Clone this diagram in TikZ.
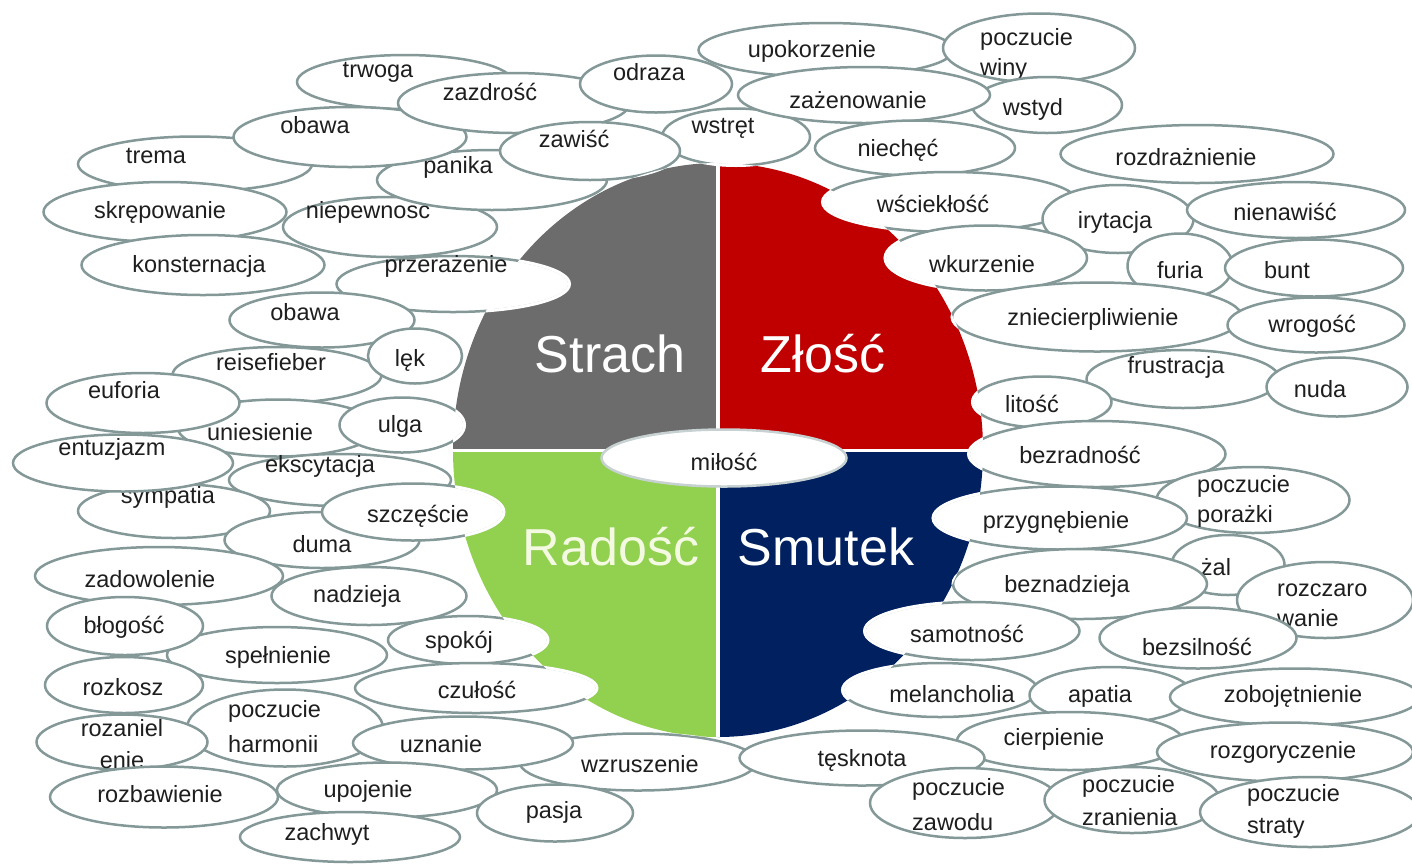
\documentclass[tikz,border=0pt]{standalone}
\usepackage{fontspec}
\setmainfont{Liberation Sans}
\usetikzlibrary{shapes.geometric}

\definecolor{rim}{RGB}{132,152,152}
\definecolor{ink}{RGB}{30,30,30}
\definecolor{fearGrey}{RGB}{108,108,108}
\definecolor{angerRed}{RGB}{192,0,0}
\definecolor{joyGreen}{RGB}{146,208,80}
\definecolor{sadNavy}{RGB}{0,32,96}

\begin{document}
\begin{tikzpicture}[x=1pt, y=-1pt,
  emo/.style 2 args={ellipse, draw=rim, fill=white, line width=2.5pt,
    minimum width=#1, minimum height=#2, inner sep=0pt},
  lbl/.style={font=\fontsize{23.5}{32}\selectfont, text=ink, inner sep=0pt, anchor=base},
  lbl2/.style={lbl, align=left, anchor=base west},
  big/.style={font=\fontsize{52}{60}\selectfont, inner sep=0pt, anchor=base}]
  \useasboundingbox (0,0) rectangle (1412,863);
  \fill[white] (0,0) rectangle (1412,863);

  % the four quarters
  \coordinate (mid) at (718,450);
  \fill[fearGrey] (mid) -- (453,450) arc[start angle=180, end angle=270, x radius=265, y radius=287] -- cycle;
  \fill[angerRed] (mid) -- (718,163) arc[start angle=270, end angle=360, x radius=265, y radius=287] -- cycle;
  \fill[sadNavy] (mid) -- (983,450) arc[start angle=0, end angle=90, x radius=265, y radius=287] -- cycle;
  \fill[joyGreen] (mid) -- (718,737) arc[start angle=90, end angle=180, x radius=265, y radius=287] -- cycle;
  \draw[white, line width=3.5pt] (718,163) -- (718,737);
  \draw[white, line width=3pt] (453,450) -- (983,450);
  \node[big, text=white] (strach) at (610,372) {Strach};
  \node[big, text=white] (zlosc) at (823,372) {Złość};
  \node[big, text={rgb,255:red,244;green,250;blue,226}] (radosc) at (611,565) {Radość};
  \node[big, text=white] (smutek) at (826,565) {Smutek};

  % upper left
  \node[emo={234}{55}] (trema) at (195,164) {};
  \node[lbl] (trema-t) at (156,163) {trema};
  \node[emo={216}{54}] (trwoga) at (405,82) {};
  \node[lbl] (trwoga-t) at (378,77) {trwoga};
  \node[emo={214}{60}] (niepewnosc) at (390,227) {};
  \node[lbl] (niepewnosc-t) at (368,218) {niepewnosc};
  \node[emo={243}{60}] (skrepowanie) at (165,212) {};
  \node[lbl] (skrepowanie-t) at (160,218) {skrępowanie};
  \node[emo={230}{60}] (panika) at (492,180) {};
  \node[lbl] (panika-t) at (458,173) {panika};
  \node[emo={233}{60}] (obawa1) at (350,137) {};
  \node[lbl] (obawa1-t) at (315,133) {obawa};
  \node[emo={232}{60}] (zazdrosc) at (514,103) {};
  \node[lbl] (zazdrosc-t) at (490,100) {zazdrość};
  \node[emo={152}{57}] (odraza) at (656,84) {};
  \node[lbl] (odraza-t) at (649,80) {odraza};
  \node[emo={148}{57}] (wstret) at (736,137) {};
  \node[lbl] (wstret-t) at (723,133) {wstręt};
  \node[emo={180}{58}] (zawisc) at (590,151) {};
  \node[lbl] (zawisc-t) at (574,147) {zawiść};
  \node[emo={243}{60}] (konsternacja) at (203,265) {};
  \node[lbl] (konsternacja-t) at (199,272) {konsternacja};
  \node[emo={233}{56}] (przerazenie) at (453,284) {};
  \node[lbl] (przerazenie-t) at (446,272) {przerażenie};
  \node[emo={185}{55}] (obawa2) at (322,320) {};
  \node[lbl] (obawa2-t) at (305,320) {obawa};

  % upper right
  \node[emo={255}{54}] (upokorzenie) at (826,50) {};
  \node[lbl] (upokorzenie-t) at (812,57) {upokorzenie};
  \node[emo={192}{69}] (winy) at (1039,48) {};
  \node[lbl2] (winy-t) at (980,75) {poczucie\\[-2pt]winy};
  \node[emo={150}{56}] (wstyd) at (1047,105) {};
  \node[lbl] (wstyd-t) at (1033,115) {wstyd};
  \node[emo={252}{56}] (zazenowanie) at (864,95) {};
  \node[lbl] (zazenowanie-t) at (858,108) {zażenowanie};
  \node[emo={200}{55}] (niechec) at (915,148) {};
  \node[lbl] (niechec-t) at (898,156) {niechęć};
  \node[emo={273}{58}] (rozdraznienie) at (1197,154) {};
  \node[lbl] (rozdraznienie-t) at (1186,165) {rozdrażnienie};
  \node[emo={255}{60}] (wscieklosc) at (950,202) {};
  \node[lbl] (wscieklosc-t) at (933,212) {wściekłość};
  \node[emo={151}{68}] (irytacja) at (1118,219) {};
  \node[lbl] (irytacja-t) at (1115,228) {irytacja};
  \node[emo={218}{56}] (nienawisc) at (1296,210) {};
  \node[lbl] (nienawisc-t) at (1285,220) {nienawiść};
  \node[emo={202}{65}] (wkurzenie) at (986,258) {};
  \node[lbl] (wkurzenie-t) at (982,272) {wkurzenie};
  \node[emo={105}{65}] (furia) at (1180,266) {};
  \node[lbl] (furia-t) at (1180,278) {furia};
  \node[emo={178}{57}] (bunt) at (1314,268) {};
  \node[lbl] (bunt-t) at (1287,278) {bunt};
  \node[emo={290}{69}] (zniecierpliwienie) at (1097,317) {};
  \node[lbl] (zniecierpliwienie-t) at (1093,325) {zniecierpliwienie};
  \node[emo={177}{55}] (wrogosc) at (1316,325) {};
  \node[lbl] (wrogosc-t) at (1312,332) {wrogość};
  \node[emo={193}{58}] (frustracja) at (1183,379) {};
  \node[lbl] (frustracja-t) at (1176,373) {frustracja};
  \node[emo={141}{59}] (nuda) at (1337,387) {};
  \node[lbl] (nuda-t) at (1320,397) {nuda};
  \node[emo={139}{51}] (litosc) at (1042,402) {};
  \node[lbl] (litosc-t) at (1032,412) {litość};

  % middle left
  \node[emo={209}{56}] (reisefieber) at (277,375) {};
  \node[lbl] (reisefieber-t) at (271,370) {reisefieber};
  \node[emo={94}{55}] (lek) at (415,356) {};
  \node[lbl] (lek-t) at (410,366) {lęk};
  \node[emo={200}{57}] (uniesienie) at (278,428) {};
  \node[lbl] (uniesienie-t) at (260,440) {uniesienie};
  \node[emo={193}{60}] (euforia) at (143,403) {};
  \node[lbl] (euforia-t) at (124,398) {euforia};
  \node[emo={125}{55}] (ulga) at (402,425) {};
  \node[lbl] (ulga-t) at (400,432) {ulga};
  \node[emo={222}{52}] (ekscytacja) at (340,480) {};
  \node[lbl] (ekscytacja-t) at (320,472) {ekscytacja};
  \node[emo={192}{54}] (sympatia) at (174,511) {};
  \node[lbl] (sympatia-t) at (168,503) {sympatia};
  \node[emo={220}{57}] (entuzjazm) at (123,463) {};
  \node[lbl] (entuzjazm-t) at (112,455) {entuzjazm};
  \node[emo={195}{56}] (duma) at (322,540) {};
  \node[lbl] (duma-t) at (322,552) {duma};
  \node[emo={182}{57}] (szczescie) at (413,512) {};
  \node[lbl] (szczescie-t) at (418,522) {szczęście};
  \node[emo={245}{57}, draw=rim!45] (milosc) at (724,458) {};
  \node[lbl] (milosc-t) at (724,470) {miłość};

  % middle right
  \node[emo={257}{66}] (bezradnosc) at (1097,454) {};
  \node[lbl] (bezradnosc-t) at (1080,463) {bezradność};
  \node[emo={193}{66}] (porazki) at (1253,500) {};
  \node[lbl2] (porazki-t) at (1197,522) {poczucie\\[-2pt]porażki};
  \node[emo={254}{63}] (przygnebienie) at (1060,518) {};
  \node[lbl] (przygnebienie-t) at (1056,528) {przygnębienie};
  \node[emo={113}{60}] (zal) at (1228,565) {};
  \node[lbl] (zal-t) at (1216,575) {żal};
  \node[emo={254}{70}] (beznadzieja) at (1080,584) {};
  \node[lbl] (beznadzieja-t) at (1067,592) {beznadzieja};
  \node[emo={176}{76}] (rozczarowanie) at (1325,600) {};
  \node[lbl2] (rozczarowanie-t) at (1277,626) {rozczaro\\[-2pt]wanie};
  \node[emo={215}{58}] (samotnosc) at (972,631) {};
  \node[lbl] (samotnosc-t) at (967,642) {samotność};
  \node[emo={197}{61}] (bezsilnosc) at (1198,638) {};
  \node[lbl] (bezsilnosc-t) at (1197,655) {bezsilność};

  % lower left
  \node[emo={248}{58}] (zadowolenie) at (159,576) {};
  \node[lbl] (zadowolenie-t) at (150,587) {zadowolenie};
  \node[emo={195}{58}] (nadzieja) at (369,596) {};
  \node[lbl] (nadzieja-t) at (357,602) {nadzieja};
  \node[emo={220}{56}] (spelnienie) at (277,655) {};
  \node[lbl] (spelnienie-t) at (278,663) {spełnienie};
  \node[emo={156}{58}] (blogosc) at (125,626) {};
  \node[lbl] (blogosc-t) at (124,633) {błogość};
  \node[emo={160}{48}] (spokoj) at (468,640) {};
  \node[lbl] (spokoj-t) at (459,648) {spokój};
  \node[emo={158}{56}] (rozkosz) at (124,685) {};
  \node[lbl] (rozkosz-t) at (123,695) {rozkosz};
  \node[emo={242}{50}] (czulosc) at (476,688) {};
  \node[lbl] (czulosc-t) at (477,698) {czułość};

  % lower right
  \node[emo={195}{54}] (melancholia) at (940,690) {};
  \node[lbl] (melancholia-t) at (952,702) {melancholia};
  \node[emo={163}{56}] (apatia) at (1111,695) {};
  \node[lbl] (apatia-t) at (1100,702) {apatia};
  \node[emo={250}{57}] (zobojetnienie) at (1295,697) {};
  \node[lbl] (zobojetnienie-t) at (1293,702) {zobojętnienie};

  % bottom row
  \node[emo={196}{77}] (harmonii) at (285,728) {};
  \node[lbl2] (harmonii-t) at (228,752) {poczucie\\[3pt]harmonii};
  \node[emo={171}{55}] (rozanielenie) at (122,742) {};
  \node[lbl, align=center] (rozanielenie-t) at (122,768) {rozaniel\\enie};
  \node[emo={237}{57}] (wzruszenie) at (638,762) {};
  \node[lbl] (wzruszenie-t) at (640,772) {wzruszenie};
  \node[emo={220}{53}] (uznanie) at (463,743) {};
  \node[lbl] (uznanie-t) at (441,752) {uznanie};
  \node[emo={226}{58}] (cierpienie) at (1070,741) {};
  \node[lbl] (cierpienie-t) at (1054,745) {cierpienie};
  \node[emo={256}{59}] (rozgoryczenie) at (1285,752) {};
  \node[lbl] (rozgoryczenie-t) at (1283,758) {rozgoryczenie};
  \node[emo={245}{55}] (tesknota) at (862,758) {};
  \node[lbl] (tesknota-t) at (862,766) {tęsknota};
  \node[emo={228}{61}] (rozbawienie) at (164,797) {};
  \node[lbl] (rozbawienie-t) at (160,802) {rozbawienie};
  \node[emo={220}{55}] (upojenie) at (387,790) {};
  \node[lbl] (upojenie-t) at (368,797) {upojenie};
  \node[emo={156}{57}] (pasja) at (555,813) {};
  \node[lbl] (pasja-t) at (554,818) {pasja};
  \node[emo={190}{70}] (zawodu) at (965,803) {};
  \node[lbl2] (zawodu-t) at (912,830) {poczucie\\[3pt]zawodu};
  \node[emo={175}{66}] (zranienia) at (1132,800) {};
  \node[lbl2] (zranienia-t) at (1082,825) {poczucie\\[1pt]zranienia};
  \node[emo={220}{70}] (straty) at (1310,812) {};
  \node[lbl2] (straty-t) at (1247,833) {poczucie\\straty};
  \node[emo={220}{50}] (zachwyt) at (350,837) {};
  \node[lbl] (zachwyt-t) at (327,840) {zachwyt};

  % rims vanish where they lie on the wheel
  \begin{scope}
    \clip (mid) ellipse [x radius=265, y radius=287];
    \draw[white, line width=3pt]
      (panika.center) ellipse [x radius=115, y radius=30]
      (zawisc.center) ellipse [x radius=90, y radius=29]
      (wstret.center) ellipse [x radius=74, y radius=28.5]
      (przerazenie.center) ellipse [x radius=116.5, y radius=28]
      (wscieklosc.center) ellipse [x radius=127.5, y radius=30]
      (wkurzenie.center) ellipse [x radius=101, y radius=32.5]
      (zniecierpliwienie.center) ellipse [x radius=145, y radius=34.5]
      (litosc.center) ellipse [x radius=69.5, y radius=25.5]
      (ulga.center) ellipse [x radius=62.5, y radius=27.5]
      (szczescie.center) ellipse [x radius=91, y radius=28.5]
      (bezradnosc.center) ellipse [x radius=128.5, y radius=33]
      (przygnebienie.center) ellipse [x radius=127, y radius=31.5]
      (beznadzieja.center) ellipse [x radius=127, y radius=35]
      (samotnosc.center) ellipse [x radius=107.5, y radius=29]
      (spokoj.center) ellipse [x radius=80, y radius=24]
      (czulosc.center) ellipse [x radius=121, y radius=25]
      (melancholia.center) ellipse [x radius=97.5, y radius=27]
      (wzruszenie.center) ellipse [x radius=118.5, y radius=28.5]
      (tesknota.center) ellipse [x radius=122.5, y radius=27.5];
  \end{scope}
\end{tikzpicture}
\end{document}
